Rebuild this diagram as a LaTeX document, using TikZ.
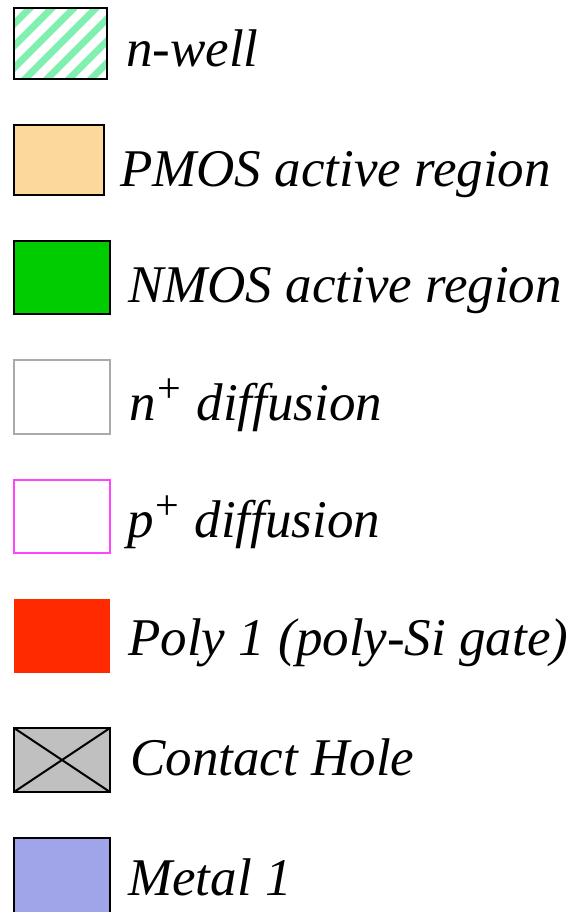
\documentclass[tikz,border=0pt]{standalone}
\usepackage{fontspec}
\setmainfont{Liberation Serif}
\definecolor{wellgreen}{RGB}{128,240,176}
\definecolor{pmosfill}{RGB}{253,216,156}
\definecolor{nmosfill}{RGB}{0,204,0}
\definecolor{ndiff}{RGB}{170,170,170}
\definecolor{pdiff}{RGB}{255,68,255}
\definecolor{polyfill}{RGB}{255,42,0}
\definecolor{contfill}{RGB}{192,192,192}
\definecolor{metalfill}{RGB}{160,164,232}
\newcommand{\plussup}{\kern2pt\raisebox{18pt}{\fontsize{42}{44}\selectfont\upshape +}\kern2pt}
\begin{document}
\begin{tikzpicture}[x=1pt,y=-1pt,
  swatch/.style={rectangle,inner sep=0pt,outer sep=0pt,line width=2pt},
  lbl/.style={anchor=base west,inner sep=0pt,font=\fontsize{53}{60}\selectfont\itshape}]
\useasboundingbox (0,0) rectangle (576,912);
% n-well
\begin{scope}
\clip (14,8) rectangle (107,79);
\foreach \k in {-4,...,5} {
  \draw[wellgreen,line width=7pt] (14+\k*22,90) -- (14+\k*22+100,-10);
}
\end{scope}
\node[swatch,draw=black,minimum width=93pt,minimum height=71pt] (nwell) at (60.5,43.5) {};
\node[lbl] (tnwell) at (126,67) {n-well};
% PMOS
\node[swatch,draw=black,fill=pmosfill,minimum width=90pt,minimum height=70pt] (pmos) at (59,160) {};
\node[lbl] (tpmos) at (120,186) {PMOS active region};
% NMOS
\node[swatch,draw=black,fill=nmosfill,minimum width=96pt,minimum height=73pt] (nmos) at (62,277.5) {};
\node[lbl] (tnmos) at (128,302) {NMOS active region};
% n+
\node[swatch,draw=ndiff,fill=white,minimum width=96pt,minimum height=74pt] (ndif) at (62,397) {};
\node[lbl] (tndif) at (129,420) {n\plussup\ diffusion};
% p+
\node[swatch,draw=pdiff,fill=white,minimum width=96pt,minimum height=73pt] (pdif) at (62,516.5) {};
\node[lbl] (tpdif) at (127,537) {p\plussup\ diffusion};
% Poly
\node[swatch,fill=polyfill,minimum width=96pt,minimum height=74pt] (poly) at (62,636) {};
\node[lbl] (tpoly) at (128,655) {Poly 1 (poly-Si gate)};
% Contact
\node[swatch,draw=black,fill=contfill,minimum width=96pt,minimum height=64pt] (cont) at (62,760) {};
\draw[line width=2pt] (cont.north west) -- (cont.south east) (cont.south west) -- (cont.north east);
\node[lbl] (tcont) at (130,775) {Contact Hole};
% Metal 1
\node[swatch,draw=black,fill=metalfill,minimum width=96pt,minimum height=90pt] (metal) at (62,883) {};
\node[lbl] (tmetal) at (128,895) {Metal 1};
\end{tikzpicture}
\end{document}
